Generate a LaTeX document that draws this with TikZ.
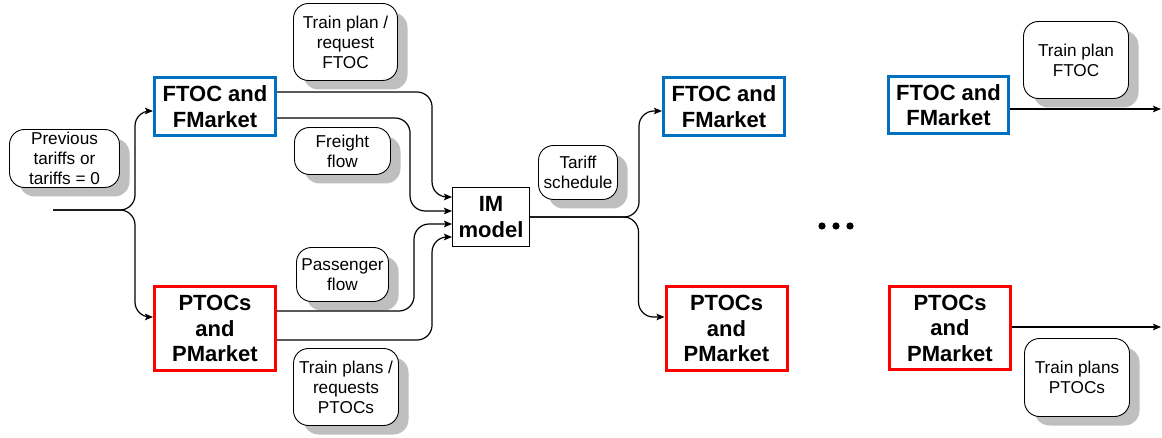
\documentclass[tikz,border=0pt]{standalone}
\usepackage{fontspec}
\setmainfont{Liberation Sans}
\usetikzlibrary{shadows,arrows.meta,calc}
\definecolor{fblue}{RGB}{0,112,192}
\definecolor{pred}{RGB}{255,0,0}
\newcommand\myNote{\fontsize{17.2}{20}\selectfont}
\newcommand\myBold{\fontsize{22}{25.5}\selectfont\bfseries}
\begin{document}
\begin{tikzpicture}[x=1pt,y=-1pt,
  notebox/.style={draw, rounded corners=15pt, fill=white, line width=0.9pt, align=center, inner sep=0pt, font=\myNote,
    drop shadow={shadow xshift=10pt,shadow yshift=-9pt,opacity=1,fill=black!25}},
  fbox/.style={draw=fblue, line width=3pt, fill=white, align=center, inner sep=0pt, font=\myBold, minimum width=121pt, minimum height=58pt},
  pbox/.style={draw=pred, line width=3pt, fill=white, align=center, inner sep=0pt, font=\myBold, minimum width=121pt, minimum height=84pt},
  imbox/.style={draw, line width=0.9pt, fill=white, align=center, inner sep=0pt, font=\myBold, minimum width=77pt, minimum height=59pt},
  conn/.style={line width=1.2pt, rounded corners=15pt, -{Stealth[length=8pt,width=6.5pt,inset=1.5pt]}}]
\useasboundingbox (0,0) rectangle (1162,438);
\fill[white] (0,0) rectangle (1162,438);

% notes
\node[notebox, minimum width=104pt, minimum height=77pt] (tp1) at (345.5,42) {Train plan /\\request\\FTOC};
\node[notebox, minimum width=96pt, minimum height=47pt] (ff) at (342.5,151) {Freight\\flow};
\node[notebox, minimum width=110pt, minimum height=58pt] (prev) at (64.5,158.5) {Previous\\tariffs or\\tariffs = 0};
\node[notebox, minimum width=92pt, minimum height=54pt] (pf) at (342.5,274.5) {Passenger\\flow};
\node[notebox, minimum width=105pt, minimum height=77pt] (tp2) at (346,387) {Train plans /\\requests\\PTOCs};
\node[notebox, minimum width=79pt, minimum height=54pt] (ts) at (578,172.5) {Tariff\\schedule};
\node[notebox, minimum width=105pt, minimum height=77pt] (tp3) at (1076,60) {Train plan\\FTOC};
\node[notebox, minimum width=105pt, minimum height=78pt] (tp4) at (1077,377.5) {Train plans\\PTOCs};

% main boxes
\node[fbox] (f1) at (215,106.5) {FTOC and\\FMarket};
\node[pbox] (p1) at (215,328.5) {PTOCs\\and\\PMarket};
\node[imbox] (im) at (491,217) {IM\\model};
\node[fbox] (f2) at (724,106.5) {FTOC and\\FMarket};
\node[pbox] (p2) at (726.5,328.5) {PTOCs\\and\\PMarket};
\node[fbox, minimum width=120pt, minimum height=57pt] (f3) at (948.5,105) {FTOC and\\FMarket};
\node[pbox, minimum height=83pt] (p3) at (950,328) {PTOCs\\and\\PMarket};

% free ends
\coordinate (start) at (53,210);
\coordinate (endf) at (1161,109);
\coordinate (endp) at (1161,327);

% connectors
\draw[conn] (start) -| ([xshift=-18pt,yshift=-4.5pt]f1.west) -- ([yshift=-4.5pt]f1.west);
\draw[conn] (start) -| ([xshift=-18pt,yshift=11.5pt]p1.west) -- ([yshift=11.5pt]p1.west);

\draw[conn] ([yshift=14.5pt]f1.east) -| ([xshift=-20pt,yshift=20pt]im.west) -- ([yshift=20pt]im.west);
\draw[conn] ([yshift=-11.5pt]f1.east) -| ([xshift=-42pt,yshift=6pt]im.west) -- ([yshift=6pt]im.west);
\draw[conn] ([yshift=17.5pt]p1.east) -| ([xshift=-38pt,yshift=-7pt]im.west) -- ([yshift=-7pt]im.west);
\draw[conn] ([yshift=-11.5pt]p1.east) -| ([xshift=-20pt,yshift=-20pt]im.west) -- ([yshift=-20pt]im.west);

\draw[conn] (im.east) -| ([xshift=-23pt,yshift=-4.5pt]f2.west) -- ([yshift=-4.5pt]f2.west);
\draw[conn] (im.east) -| ([xshift=-26pt,yshift=11.5pt]p2.west) -- ([yshift=11.5pt]p2.west);

\draw[conn] (f3.east |- endf) -- (endf);
\draw[conn] (p3.east |- endp) -- (endp);

% ellipsis
\fill (822,226) circle (3.6pt);
\fill (836,226) circle (3.6pt);
\fill (850,226) circle (3.6pt);
\end{tikzpicture}
\end{document}
